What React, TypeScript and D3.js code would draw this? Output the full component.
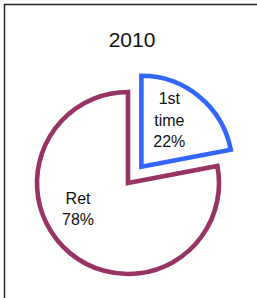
import { useEffect, useRef } from 'react';
import * as d3 from 'd3';

// 2010 pie: share of first-time vs returning
const categories = ['1st time', 'Ret'];
const values = [22, 78];
const labelLines = [['1st', 'time', '22%'], ['Ret', '78%']];
const title = '2010';

export default function App() {
  const svgRef = useRef<SVGSVGElement | null>(null);

  const colors: Record<string, string> = {
    '1st time': '#3366ff',
    Ret: '#993366',
  };
  // how far each slice is pulled out of the pie
  const explode: Record<string, number> = { '1st time': 21, Ret: 0 };
  // small label nudges (relative to centroid)
  const labelNudge: Record<string, [number, number]> = {
    '1st time': [-8, -2.5],
    Ret: [-14, -17],
  };

  useEffect(() => {
    if (!svgRef.current) return;
    const width = 257;
    const height = 298;
    const cx = 128;
    const cy = 183;
    const radius = 91;

    const svg = d3.select(svgRef.current);
    svg.selectAll('*').remove();
    svg.attr('width', width).attr('height', height);

    svg.append('rect').attr('width', width).attr('height', height).attr('fill', '#fff');

    // frame (only left & top visible in crop)
    svg.append('path')
      .attr('d', `M4.5,${height} V4.5 H${width}`)
      .attr('fill', 'none')
      .attr('stroke', '#222')
      .attr('stroke-width', 1.4);

    svg.append('text')
      .attr('x', 132)
      .attr('y', 47)
      .attr('text-anchor', 'middle')
      .attr('font-family', "'Liberation Sans', Arial, sans-serif")
      .attr('font-size', '21px')
      .attr('fill', '#111')
      .text(title);

    const data = categories.map((c, i) => ({ key: c, value: values[i], lines: labelLines[i] }));

    const pie = d3.pie<typeof data[number]>().value(d => d.value).sort(null);
    const arc = d3.arc<d3.PieArcDatum<typeof data[number]>>().innerRadius(0).outerRadius(radius);
    const labelArc = d3.arc<d3.PieArcDatum<typeof data[number]>>()
      .innerRadius(radius * 0.62)
      .outerRadius(radius * 0.62);

    const g = svg.append('g').attr('transform', `translate(${cx},${cy})`);

    const slices = g.selectAll('g.slice')
      .data(pie(data))
      .join('g')
      .attr('class', 'slice')
      .attr('transform', d => {
        const mid = (d.startAngle + d.endAngle) / 2;
        const off = explode[d.data.key] || 0;
        return `translate(${Math.sin(mid) * off},${-Math.cos(mid) * off})`;
      });

    slices.append('path')
      .attr('d', d => arc(d) as string)
      .attr('fill', '#fff')
      .attr('stroke', d => colors[d.data.key])
      .attr('stroke-width', 4.6)
      .attr('stroke-linejoin', 'miter');

    slices.each(function (d) {
      const [x, y] = labelArc.centroid(d);
      const [nx, ny] = labelNudge[d.data.key] || [0, 0];
      const lineH = 21.5;
      const n = d.data.lines.length;
      const t = d3.select(this).append('text')
        .attr('text-anchor', 'middle')
        .attr('font-family', "'Liberation Sans', Arial, sans-serif")
        .attr('font-size', '16px')
        .attr('fill', '#111');
      d.data.lines.forEach((line, i) => {
        t.append('tspan')
          .attr('x', x + nx)
          .attr('y', y + ny + (i - (n - 1) / 2) * lineH + 5)
          .text(line);
      });
    });
  }, []);

  return (
    <div style={{ position: 'fixed', left: 0, top: 0 }}>
      <svg ref={svgRef} style={{ display: 'block' }}></svg>
    </div>
  );
}
